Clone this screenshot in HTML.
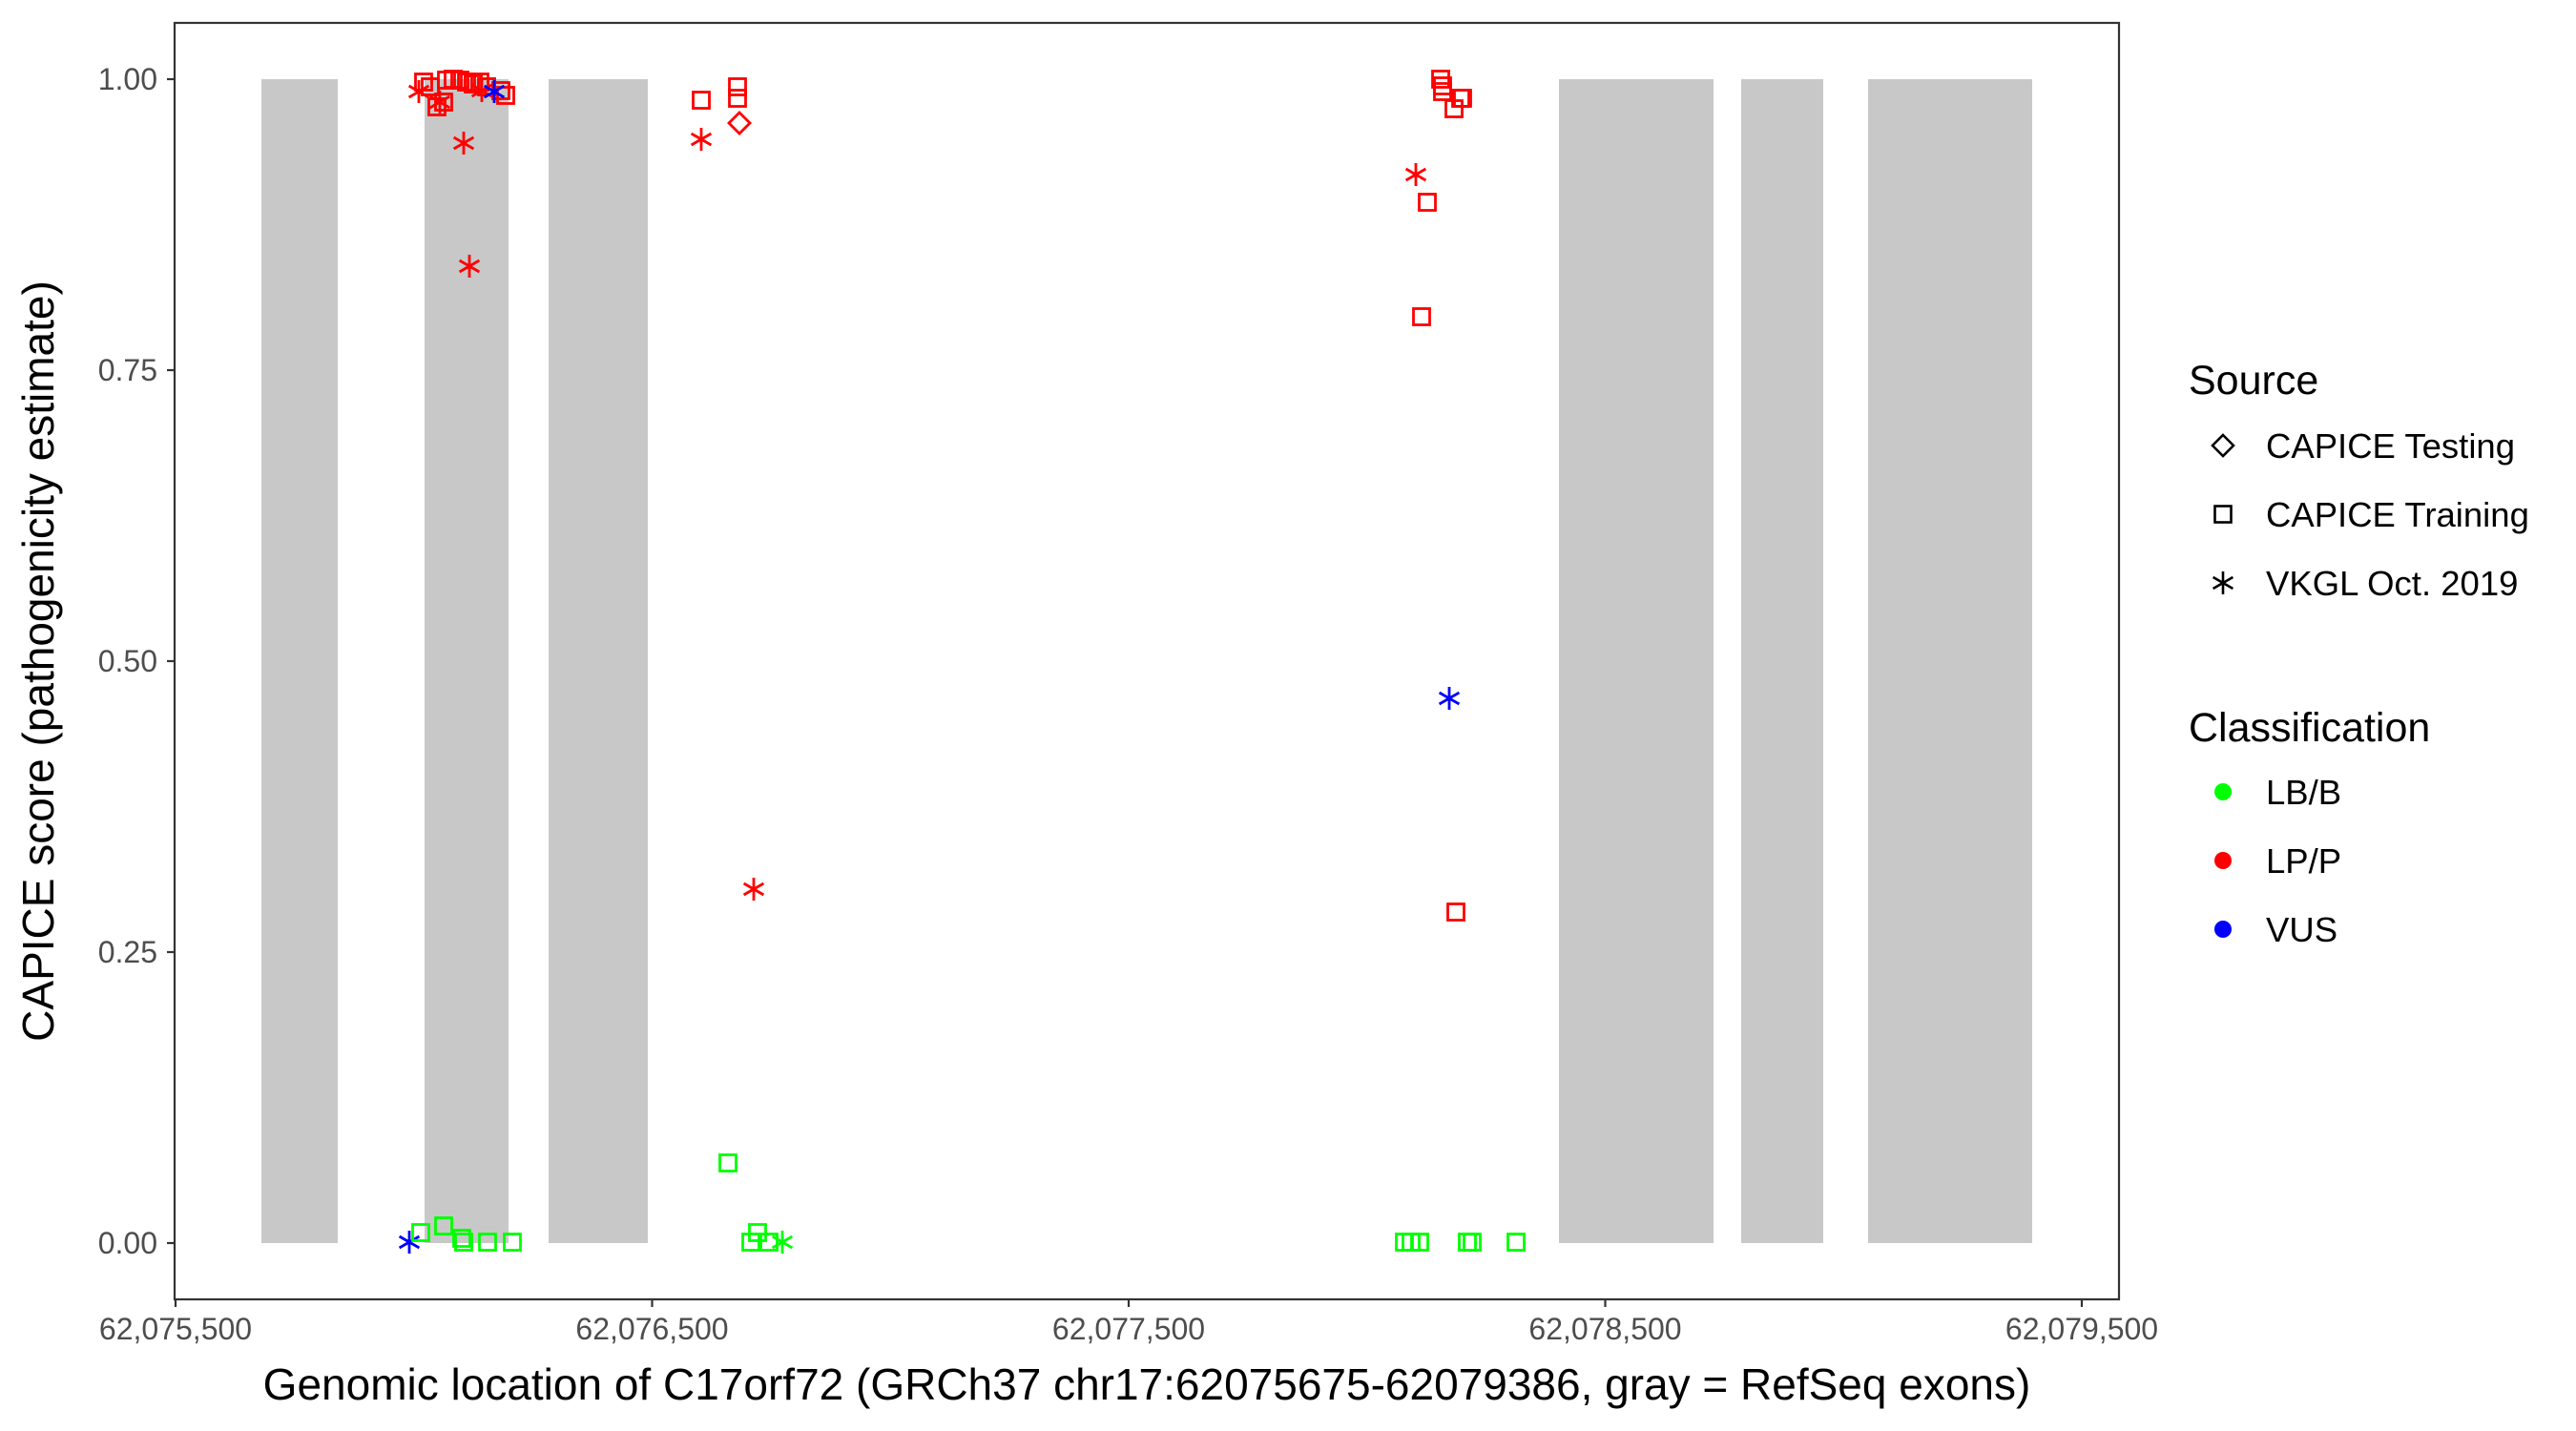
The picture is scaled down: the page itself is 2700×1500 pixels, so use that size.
<!DOCTYPE html>
<html><head><meta charset="utf-8"><style>
html,body{margin:0;padding:0;background:#fff}
svg{display:block;font-family:"Liberation Sans",Arial,sans-serif}
</style></head><body>
<svg id="s" width="2700" height="1500" viewBox="0 0 2700 1500" xmlns="http://www.w3.org/2000/svg">
<rect x="0" y="0" width="2700" height="1500" fill="#fff"/>
<g fill="#c8c8c8">
<rect x="274" y="83" width="80" height="1220"/>
<rect x="445" y="83" width="88" height="1220"/>
<rect x="575" y="83" width="104" height="1220"/>
<rect x="1634" y="83" width="162" height="1220"/>
<rect x="1825" y="83" width="86" height="1220"/>
<rect x="1958" y="83" width="172" height="1220"/>
</g>
<g id="pts" fill="none" stroke-width="2.8"></g>
<rect x="183" y="24" width="2038" height="1338" fill="none" stroke="#333" stroke-width="2.2"/>
<g stroke="#333" stroke-width="2.2">
<line x1="175" y1="83" x2="183" y2="83"/><line x1="175" y1="388" x2="183" y2="388"/>
<line x1="175" y1="693" x2="183" y2="693"/><line x1="175" y1="998" x2="183" y2="998"/>
<line x1="175" y1="1303" x2="183" y2="1303"/>
<line x1="184" y1="1362" x2="184" y2="1370"/><line x1="683.5" y1="1362" x2="683.5" y2="1370"/>
<line x1="1183" y1="1362" x2="1183" y2="1370"/><line x1="1682.5" y1="1362" x2="1682.5" y2="1370"/>
<line x1="2182" y1="1362" x2="2182" y2="1370"/>
</g>
<g fill="#4d4d4d" font-size="32" text-anchor="end">
<text x="165" y="94">1.00</text><text x="165" y="399">0.75</text>
<text x="165" y="704">0.50</text><text x="165" y="1009">0.25</text>
<text x="165" y="1314">0.00</text>
</g>
<g fill="#4d4d4d" font-size="32" text-anchor="middle">
<text x="184" y="1404">62,075,500</text><text x="683.5" y="1404">62,076,500</text>
<text x="1183" y="1404">62,077,500</text><text x="1682.5" y="1404">62,078,500</text>
<text x="2182" y="1404">62,079,500</text>
</g>
<text x="1202" y="1467" font-size="46" text-anchor="middle" fill="#000">Genomic location of C17orf72 (GRCh37 chr17:62075675-62079386, gray = RefSeq exons)</text>
<text transform="translate(56,693) rotate(-90)" font-size="46" text-anchor="middle" fill="#000">CAPICE score (pathogenicity estimate)</text>
<g fill="#000">
<text x="2294" y="413" font-size="43">Source</text>
<text x="2375" y="480" font-size="36.5">CAPICE Testing</text>
<text x="2375" y="552" font-size="36.5">CAPICE Training</text>
<text x="2375" y="624" font-size="36.5">VKGL Oct. 2019</text>
<text x="2294" y="777" font-size="43">Classification</text>
<text x="2375" y="843" font-size="36.5">LB/B</text>
<text x="2375" y="915" font-size="36.5">LP/P</text>
<text x="2375" y="987" font-size="36.5">VUS</text>
</g>
<g id="leg" fill="none" stroke="#000" stroke-width="2.6"></g>
<circle cx="2330" cy="830" r="9" fill="#00ff00"/>
<circle cx="2330" cy="902" r="9" fill="#ff0000"/>
<circle cx="2330" cy="974" r="9" fill="#0000ff"/>
</svg>
<script>
var NS="http://www.w3.org/2000/svg",K=1.722;
function mk(g,t,x,y,c){var e;var h=8.5;
 if(t=="s"){e=document.createElementNS(NS,"rect");e.setAttribute("x",x-h);e.setAttribute("y",y-h);e.setAttribute("width",2*h);e.setAttribute("height",2*h);}
 else if(t=="d"){e=document.createElementNS(NS,"path");var d=11;e.setAttribute("d","M"+x+","+(y-d)+"L"+(x+d)+","+y+"L"+x+","+(y+d)+"L"+(x-d)+","+y+"Z");}
 else{e=document.createElementNS(NS,"path");var a=12,b=10.4,v=6;e.setAttribute("d","M"+x+","+(y-a)+"V"+(y+a)+"M"+(x-b)+","+(y-v)+"L"+(x+b)+","+(y+v)+"M"+(x-b)+","+(y+v)+"L"+(x+b)+","+(y-v));}
 e.setAttribute("stroke",c);g.appendChild(e);}
var R="#ff0000",G="#00ff00",B="#0000ff";
var P=[
["s",262,53,R],["s",266,65,R],["s",270,62,R],["s",258,50,R],["s",272,49,R],["s",276,48,R],["s",280,49,R],["s",284,50,R],["s",288,51,R],["s",292,50,R],["s",296,53,G],["s",296,53,R],["s",305,55,R],["s",308,58,R],
["a",255,56,R],["a",268,62,R],["a",282,87,R],["a",286,162,R],["a",293,55,R],["a",301,56,B],
["s",427,61,R],["a",427,85,R],["s",449,53,R],["s",449,60,R],["d",450,75,R],["a",459,541,R],
["s",443,708,G],["s",461,750,G],["s",457,756,G],["s",468,756,G],["a",476,756,G],
["a",249,756,B],["s",256,750,G],["s",270,746,G],["s",281,754,G],["s",282,756,G],["s",297,756,G],["s",312,756,G],
["a",862,106,R],["s",869,123,R],["s",865,193,R],["s",877,48,R],["s",878,52,R],["s",878,56,R],["s",885,66,R],["s",889,60,R],["s",890,60,R],
["a",882,425,B],["s",886,555,R],
["s",855,756,G],["s",859,756,G],["s",864,756,G],["s",893,756,G],["s",896,756,G],["s",923,756,G]];
var g=document.getElementById("pts");
P.forEach(function(p){mk(g,p[0],Math.round(p[1]*K),Math.round(p[2]*K),p[3]);});
var l=document.getElementById("leg");
mk(l,"d",2330,467,"#000");mk(l,"s",2330,539,"#000");mk(l,"a",2330,611,"#000");
</script>
</body></html>
